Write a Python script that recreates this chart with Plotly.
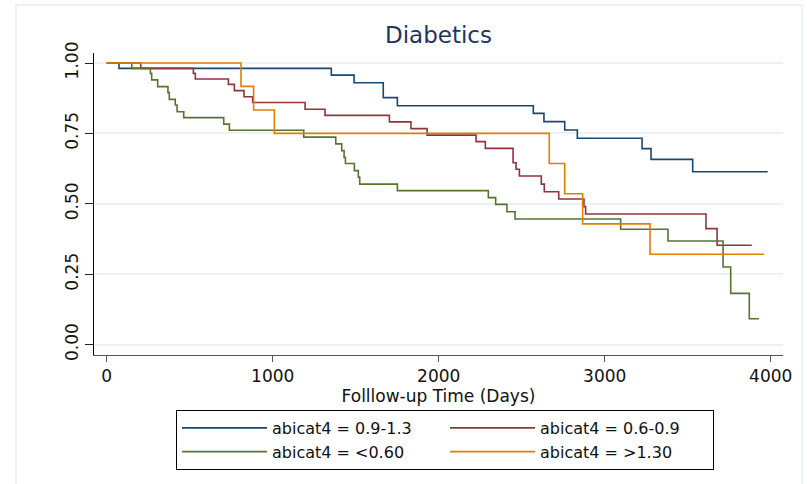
import plotly.graph_objects as go

# ---- data (Kaplan-Meier steps) ----
blue_t = [0, 74, 1353, 1490, 1666, 1751, 2570, 2634, 2759, 2835, 3225, 3279, 3530, 3982]
blue_s = [1.0, 0.981, 0.957, 0.930, 0.877, 0.848, 0.821, 0.792, 0.762, 0.733, 0.696, 0.658, 0.614, 0.614]

red_t = [0, 205, 522, 534, 733, 769, 827, 879, 1195, 1315, 1703, 1833, 1930, 2225, 2281,
         2448, 2466, 2486, 2618, 2636, 2723, 2875, 2885, 3610, 3677, 3886]
red_s = [1.0, 0.981, 0.963, 0.943, 0.924, 0.902, 0.880, 0.860, 0.836, 0.814, 0.791, 0.767, 0.744, 0.721, 0.697,
         0.646, 0.623, 0.599, 0.570, 0.543, 0.517, 0.490, 0.464, 0.412, 0.353, 0.353]

green_t = [0, 151, 263, 271, 307, 369, 377, 413, 424, 464, 705, 739, 1187, 1380, 1416, 1430, 1438,
           1492, 1516, 1524, 1751, 2299, 2343, 2411, 2460, 3096, 3381, 3713, 3759, 3871, 3929]
green_s = [1.0, 0.981, 0.963, 0.940, 0.916, 0.895, 0.871, 0.851, 0.827, 0.806, 0.783, 0.761, 0.737, 0.713, 0.689,
           0.665, 0.643, 0.618, 0.595, 0.570, 0.547, 0.522, 0.498, 0.472, 0.446, 0.410, 0.368, 0.276, 0.182,
           0.092, 0.092]

orange_t = [0, 809, 885, 1010, 2666, 2759, 2867, 3273, 3960]
orange_s = [1.0, 0.917, 0.833, 0.750, 0.643, 0.536, 0.429, 0.321, 0.321]

names = ["abicat4 = 0.9-1.3", "abicat4 = 0.6-0.9", "abicat4 = &lt;0.60", "abicat4 = &gt;1.30"]
colors = ["#1a476f", "#90353b", "#55752f", "#e37e00"]

x_ticks = [0, 1000, 2000, 3000, 4000]
y_ticks = [0, 0.25, 0.5, 0.75, 1.0]

FONT = "DejaVu Sans"

fig = go.Figure()
for t, s, n, c in zip([blue_t, red_t, green_t, orange_t],
                      [blue_s, red_s, green_s, orange_s], names, colors):
    fig.add_trace(go.Scatter(x=t, y=s, mode="lines", name=n,
                             line=dict(color=c, width=1.6, shape="hv")))

fig.update_layout(
    width=807, height=484,
    margin=dict(l=94, r=24, t=53, b=129, autoexpand=False),
    paper_bgcolor="white", plot_bgcolor="white",
    font=dict(family=FONT, size=17, color="#111111"),
    title=dict(text="Diabetics", x=0.5, xref="paper", xanchor="center",
               y=1 - 35 / 484, yref="container", yanchor="middle",
               font=dict(family=FONT, size=23, color="#1e3560")),
    showlegend=True,
    legend=dict(orientation="h", x=0.119, xanchor="left", y=-0.182, yanchor="top",
                bordercolor="#000000", borderwidth=1, bgcolor="white",
                font=dict(family=FONT, size=16, color="#111111"),
                entrywidth=168, itemwidth=85, traceorder="normal"),
    shapes=[dict(type="rect", xref="paper", yref="paper",
                 x0=-0.1132, x1=1.0276, y0=-0.47, y1=1.159,
                 line=dict(color="#e6eef1", width=1.5), fillcolor="rgba(0,0,0,0)", layer="below")],
)

fig.update_xaxes(range=[-76.5, 4074], tickvals=x_ticks, ticks="outside", ticklen=6,
                 tickcolor="#555555", showline=True, linecolor="#555555", linewidth=1,
                 showgrid=False, zeroline=False,
                 tickfont=dict(family=FONT, size=17, color="#111111"),
                 title=dict(text="Folllow-up Time (Days)", standoff=0,
                            font=dict(family=FONT, size=17, color="#111111")))
fig.update_yaxes(range=[-0.0366, 1.0355], tickvals=y_ticks, tickformat=".2f", tickangle=-90,
                 ticks="outside", ticklen=8, tickcolor="#222222",
                 showline=True, linecolor="#000000", linewidth=1,
                 showgrid=True, gridcolor="#eaf2f3", gridwidth=1.5, zeroline=False,
                 tickfont=dict(family=FONT, size=17, color="#111111"))

fig.write_html("out.html", config={"displayModeBar": False},
               post_script="document.body.style.margin='0';document.body.style.overflow='hidden';")
